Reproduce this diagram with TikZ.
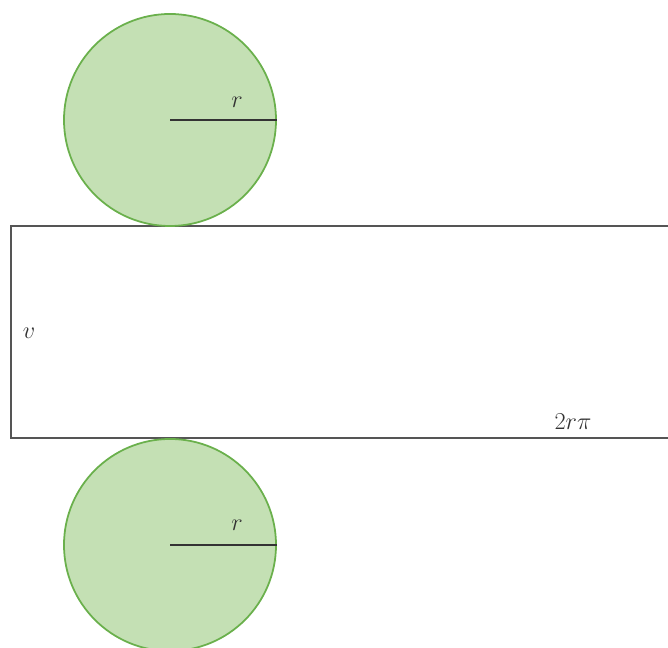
\documentclass[tikz,border=0pt]{standalone}
\usepackage{tikz}
\usetikzlibrary{positioning, calc}
\usepackage{xcolor}
\definecolor{leaf}{HTML}{C4E0B4}
\definecolor{leafline}{HTML}{6AB04C}
\definecolor{edge}{HTML}{555555}
\definecolor{ink}{HTML}{333333}

\begin{document}
\begin{tikzpicture}[
    x=0.03cm, y=0.03cm,
    disc/.style={
        circle, draw=leafline, line width=1.5pt, fill=leaf,
        minimum size=6.36cm, inner sep=0pt
    },
    net/.style={
        rectangle, draw=edge, line width=1.6pt,
        minimum width=19.98cm, minimum height=6.36cm, inner sep=0pt
    },
    radius/.style={line width=1.5pt, ink},
    lbl/.style={font=\huge, text=ink, inner sep=0pt},
]
\useasboundingbox (0,0) rectangle (668,648);

% Nodes
\node[net] (side) at (344,316) {};
\node[disc] (lid) at (170,528) {};
\node[disc] (base) at (170,103) {};

% Radii
\draw[radius] (lid.center) -- (lid.east);
\draw[radius] (base.center) -- (base.east);

% Labels
\node[lbl] (rtop) at (237,546) {$r$};
\node[lbl] (rbot) at (237,123) {$r$};
\node[lbl] (height) at (29,315) {$v$};
\node[lbl] (width) at (573,226) {$2r\pi$};

\end{tikzpicture}
\end{document}
